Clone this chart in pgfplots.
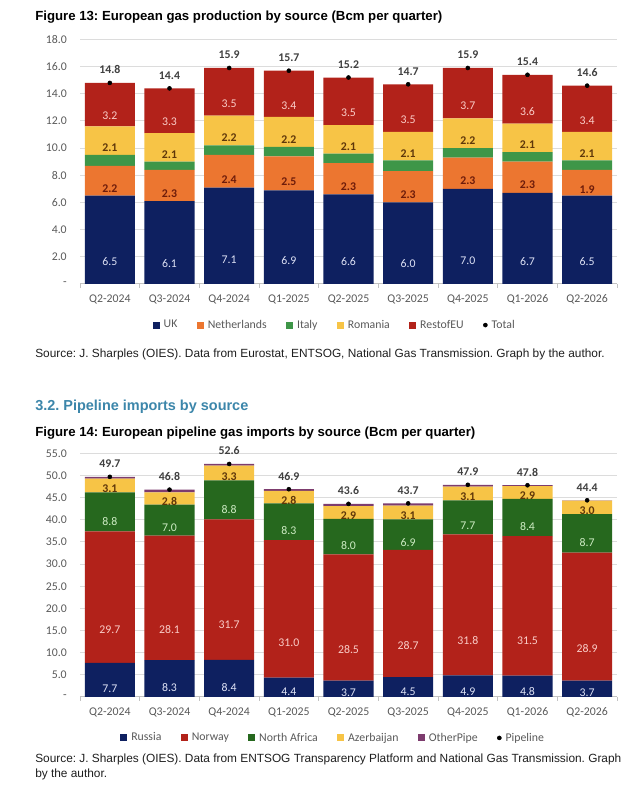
\documentclass[border=0pt]{standalone}
\usepackage{fontspec}
\setmainfont{Carlito}
\newfontfamily\arial{Liberation Sans}
\usepackage{pgfplots}
\usepackage{pgfplotstable}
\pgfplotsset{compat=1.18}
\frenchspacing

\definecolor{cUK}{RGB}{14,32,96}
\definecolor{cNL}{RGB}{236,118,48}
\definecolor{cIT}{RGB}{62,150,72}
\definecolor{cRO}{RGB}{247,196,70}
\definecolor{cRE}{RGB}{178,34,26}
\definecolor{cNA}{RGB}{38,104,30}
\definecolor{cOP}{RGB}{125,60,110}
\definecolor{cHead}{RGB}{60,134,170}
\definecolor{tGray}{RGB}{89,89,89}
\definecolor{gridc}{RGB}{220,220,220}
\definecolor{axc}{RGB}{195,195,195}
\definecolor{lLight}{RGB}{222,226,245}
\definecolor{lPink}{RGB}{250,205,200}
\definecolor{lGreen}{RGB}{205,235,195}
\definecolor{lBrown}{RGB}{95,55,10}
\definecolor{lDRed}{RGB}{110,28,10}
\definecolor{lTot}{RGB}{64,64,64}
\definecolor{srcc}{RGB}{30,30,30}

\newcommand\cf{\fontsize{8.85pt}{10.6pt}\selectfont}
\newcommand\cfb{\fontsize{8.85pt}{10.6pt}\selectfont\bfseries}

\pgfplotstableread{
x UK NL IT RO RE Tot
0 6.5 2.2 0.8 2.1 3.2 14.8
1 6.1 2.3 0.6 2.1 3.3 14.4
2 7.1 2.4 0.7 2.2 3.5 15.9
3 6.9 2.5 0.7 2.2 3.4 15.7
4 6.6 2.3 0.7 2.1 3.5 15.2
5 6.0 2.3 0.8 2.1 3.5 14.7
6 7.0 2.3 0.7 2.2 3.7 15.9
7 6.7 2.3 0.7 2.1 3.6 15.4
8 6.5 1.9 0.7 2.1 3.4 14.6
}\prodtab

\pgfplotstableread{
x RU NO NA AZ OP Tot
0 7.7 29.7 8.8 3.1 0.4 49.7
1 8.3 28.1 7.0 2.8 0.6 46.8
2 8.4 31.7 8.8 3.3 0.4 52.6
3 4.4 31.0 8.3 2.8 0.4 46.9
4 3.7 28.5 8.0 2.9 0.5 43.6
5 4.5 28.7 6.9 3.1 0.5 43.7
6 4.9 31.8 7.7 3.1 0.4 47.9
7 4.8 31.5 8.4 2.9 0.2 47.8
8 3.7 28.9 8.7 3.0 0.1 44.4
}\pipetab

\pgfplotsset{
  base/.style={
    scale only axis, width=402.75pt,
    xmin=-0.5, xmax=8.5,
    xtick={0,...,8},
    xticklabels={Q2-2024,Q3-2024,Q4-2024,Q1-2025,Q2-2025,Q3-2025,Q4-2025,Q1-2026,Q2-2026},
  },
  main/.style={base,
    ybar stacked, bar width=0.84,
    axis line style={draw=none},
    ymajorgrids, major grid style={draw=gridc, line width=0.75pt},
    major tick length=0pt, minor tick length=3pt,
    tick style={draw=axc, line width=0.6pt},
    minor xtick={-0.5,0.5,...,8.5},
    tick align=outside, xtick pos=left, ytick pos=left,
    ticklabel style={font=\cf, text=tGray},
    yticklabel style={inner sep=0pt, anchor=east, xshift=-9.75pt},
    xticklabel style={inner sep=0pt, anchor=center, yshift=-11.25pt},
    extra y ticks={0}, extra y tick labels={},
    extra y tick style={major grid style={draw=axc, line width=0.75pt}},
    legend columns=-1,
    legend style={draw=none, fill=none, font=\cf, text=tGray, anchor=center,
      /tikz/every even column/.append style={column sep=12.5pt},
      /tikz/every odd column/.append style={column sep=1pt}},
  },
  seg/.style n args={3}{fill=#1, draw=none,
    point meta=explicit symbolic,
    nodes near coords={\pgfplotspointmeta},
    every node near coord/.append style={font=#3, text=#2, anchor=center, yshift=-\pgfplotspointmeta*\halfu},
  },
  plain/.style={fill=#1, draw=none},
  sq/.style={legend image code/.code={\fill[#1] (0pt,-2.6pt) rectangle (5.25pt,2.6pt);}},
  dotleg/.style={legend image code/.code={\fill[black] (2.6pt,0pt) circle (1.5pt);}},
  tot/.style={only marks, mark=*, mark size=1.5pt, black,
    point meta=explicit symbolic,
    nodes near coords={\pgfplotspointmeta},
    every node near coord/.append style={font=\cfb, text=lTot, anchor=center, yshift=9.75pt}},
}

\begin{document}
\begin{tikzpicture}
\useasboundingbox (0,0) rectangle (480pt,600pt);

% ---------- Figure 13 ----------
\node[anchor=west, inner sep=0pt] at (26.25pt,587.25pt) {\arial\bfseries\fontsize{9.9pt}{12pt}\selectfont Figure 13: European gas production by source (Bcm per quarter)};

% (the style is applied twice by pgfplots, so this is a quarter of one y unit)
\def\halfu{2.5472pt}
\begin{axis}[main, at={(60pt,387pt)}, anchor=south west, height=183.4pt,
  ymin=0, ymax=18, ytick={0,2,...,18},
  yticklabels={{-\hspace{3pt}},2.0,4.0,6.0,8.0,10.0,12.0,14.0,16.0,18.0},
  legend style={at={(0.475,-0.168)}}]
\addplot[seg={cUK}{lLight}{\cf}, sq=cUK] table[x=x,y=UK,meta=UK]{\prodtab};
\addlegendentry{UK}
\addplot[seg={cNL}{lDRed}{\cfb}, sq=cNL] table[x=x,y=NL,meta=NL]{\prodtab};
\addlegendentry{Netherlands}
\addplot[plain=cIT, sq=cIT] table[x=x,y=IT]{\prodtab};
\addlegendentry{Italy}
\addplot[seg={cRO}{lBrown}{\cfb}, sq=cRO] table[x=x,y=RO,meta=RO]{\prodtab};
\addlegendentry{Romania}
\addplot[seg={cRE}{lPink}{\cf}, sq=cRE] table[x=x,y=RE,meta=RE]{\prodtab};
\addlegendentry{RestofEU}
\addlegendimage{dotleg}
\addlegendentry{Total}
\end{axis}
\begin{axis}[base, at={(60pt,387pt)}, anchor=south west, height=183.4pt,
  ymin=0, ymax=18, hide axis, clip=false]
\addplot[tot] table[x=x,y=Tot,meta=Tot]{\prodtab};
\end{axis}

\node[anchor=west, inner sep=0pt, text=srcc] at (26.25pt,334.5pt) {\arial\fontsize{8.9pt}{11pt}\selectfont Source: J. Sharples (OIES). Data from Eurostat, ENTSOG, National Gas Transmission. Graph by the author.};

% ---------- Section heading ----------
\node[anchor=west, inner sep=0pt, text=cHead] at (26.25pt,294.75pt) {\arial\bfseries\fontsize{10.85pt}{13pt}\selectfont 3.2. Pipeline imports by source};

% ---------- Figure 14 ----------
\node[anchor=west, inner sep=0pt] at (26.25pt,275.25pt) {\arial\bfseries\fontsize{9.9pt}{12pt}\selectfont Figure 14: European pipeline gas imports by source (Bcm per quarter)};

\def\halfu{0.83068pt}
\begin{axis}[main, at={(60pt,77.25pt)}, anchor=south west, height=182.75pt,
  ymin=0, ymax=55, ytick={0,5,...,55},
  yticklabels={{-\hspace{3pt}},5.0,10.0,15.0,20.0,25.0,30.0,35.0,40.0,45.0,50.0,55.0},
  legend style={at={(0.472,-0.168)}}]
\addplot[seg={cUK}{lLight}{\cf}, sq=cUK] table[x=x,y=RU,meta=RU]{\pipetab};
\addlegendentry{Russia}
\addplot[seg={cRE}{lPink}{\cf}, sq=cRE] table[x=x,y=NO,meta=NO]{\pipetab};
\addlegendentry{Norway}
\addplot[seg={cNA}{lGreen}{\cf}, sq=cNA] table[x=x,y=NA,meta=NA]{\pipetab};
\addlegendentry{North Africa}
\addplot[seg={cRO}{lBrown}{\cfb}, sq=cRO] table[x=x,y=AZ,meta=AZ]{\pipetab};
\addlegendentry{Azerbaijan}
\addplot[plain=cOP, sq=cOP] table[x=x,y=OP]{\pipetab};
\addlegendentry{OtherPipe}
\addlegendimage{dotleg}
\addlegendentry{Pipeline}
\end{axis}
\begin{axis}[base, at={(60pt,77.25pt)}, anchor=south west, height=182.75pt,
  ymin=0, ymax=55, hide axis, clip=false]
\addplot[tot] table[x=x,y=Tot,meta=Tot]{\pipetab};
\end{axis}

\node[anchor=west, inner sep=0pt, text=srcc] at (26.25pt,30.75pt) {\arial\fontsize{8.9pt}{11pt}\selectfont Source: J. Sharples (OIES). Data from ENTSOG Transparency Platform and National Gas Transmission. Graph};
\node[anchor=west, inner sep=0pt, text=srcc] at (26.25pt,19.5pt) {\arial\fontsize{8.9pt}{11pt}\selectfont by the author.};
\end{tikzpicture}
\end{document}
